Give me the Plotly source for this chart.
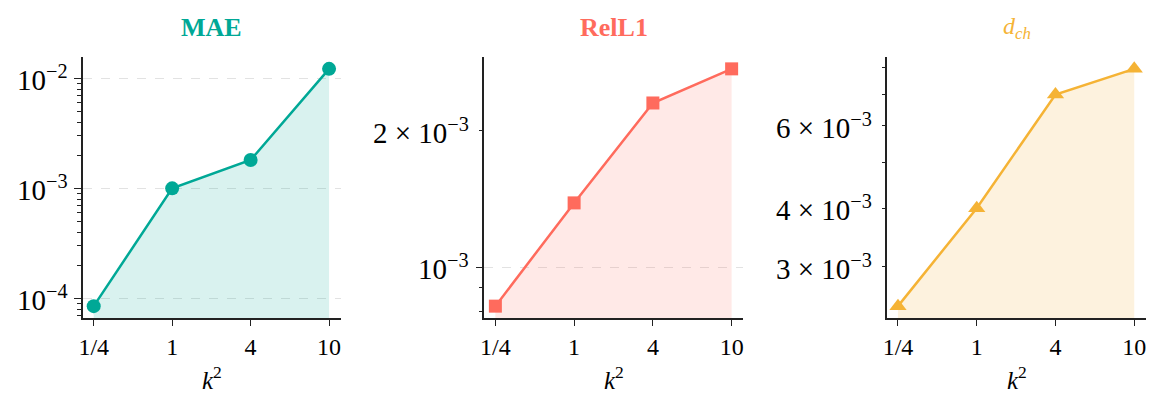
import numpy as np
import plotly.graph_objects as go

# ---- data ----
k2_labels = ["1/4", "1", "4", "10"]
mae = [8.5e-5, 1.0e-3, 1.81e-3, 1.22e-2]
rell1 = [8.2e-4, 1.385e-3, 2.30e-3, 2.735e-3]
dch = [2.47e-3, 4.0e-3, 7.0e-3, 7.94e-3]

# y tick labels (value, text) for each panel
ylabel_vals = [[1e-4, 1e-3, 1e-2], [1e-3, 2e-3], [3e-3, 4e-3, 6e-3]]
ylabel_text = [
    ["10<sup>−4</sup>", "10<sup>−3</sup>", "10<sup>−2</sup>"],
    ["10<sup>−3</sup>", "2 × 10<sup>−3</sup>"],
    ["3 × 10<sup>−3</sup>", "4 × 10<sup>−3</sup>", "6 × 10<sup>−3</sup>"],
]
# long (major, gridded) ticks per panel
major_ticks = [[1e-4, 1e-3, 1e-2], [1e-3], []]

series = [mae, rell1, dch]
titles = ["<b>MAE</b>", "<b>RelL1</b>", "<i>d</i><sub><i>ch</i></sub>"]
colors = ["#00A896", "#FF6B5D", "#F5B335"]
fills = ["rgba(0,168,150,0.15)", "rgba(255,107,93,0.15)", "rgba(240,172,48,0.16)"]
symbols = ["circle", "square", "triangle-up"]
marker_sizes = [14, 13, 15]

W, H = 1162, 410
x_dom_px = [(79, 338), (482, 742), (886, 1146)]
y_dom = [(410 - 318) / H, (410 - 57) / H]

FONT = "Liberation Serif, Times New Roman, serif"
AX = "#222222"
GRID = "#e2e2e2"
YFS = 29

fig = go.Figure()
annotations = []

for i, (vals, col) in enumerate(zip(series, colors)):
    n = "" if i == 0 else str(i + 1)
    xa, ya = "x" + n, "y" + n
    fig.add_trace(go.Scatter(
        x=k2_labels, y=vals, xaxis=xa, yaxis=ya, mode="lines+markers",
        line=dict(color=col, width=2.5),
        marker=dict(symbol=symbols[i], size=marker_sizes[i], color=col, line=dict(width=0)),
        fill="tozeroy", fillcolor=fills[i], showlegend=False, cliponaxis=False,
    ))
    lo, hi = np.log10(min(vals)), np.log10(max(vals))
    m = 0.05 * (hi - lo)
    yr = [lo - m, hi + m]
    minor_vals = [k * 10.0 ** e for e in range(-6, 0) for k in range(1, 10)
                  if not any(abs(k * 10.0 ** e - t) / t < 1e-6 for t in major_ticks[i])]
    d = x_dom_px[i]
    fig.update_layout(**{
        ("xaxis" + n): dict(
            domain=[d[0] / W, d[1] / W], anchor=ya, type="category",
            range=[-0.14, 3.15], showline=True, linecolor=AX, linewidth=1.5,
            ticks="outside", ticklen=6, tickwidth=1.3, tickcolor=AX,
            showgrid=False, zeroline=False,
            tickfont=dict(family=FONT, size=24, color="#000"),
        ),
        ("yaxis" + n): dict(
            domain=y_dom, anchor=xa, type="log", range=yr,
            showline=True, linecolor=AX, linewidth=1.5,
            ticks="outside", ticklen=7, tickwidth=1.3, tickcolor=AX,
            tickmode="array", tickvals=major_ticks[i], showticklabels=False,
            showgrid=True, gridcolor=GRID, griddash="dash", gridwidth=1,
            zeroline=False,
            minor=dict(tickmode="array", tickvals=minor_vals, ticks="outside",
                       ticklen=3.5, tickwidth=1.1, tickcolor=AX, showgrid=False),
        ),
    })
    # y tick labels placed next to their ticks
    for v, t in zip(ylabel_vals[i], ylabel_text[i]):
        annotations.append(dict(
            text=t, x=(d[0] - 14) / W, xref="paper", y=np.log10(v), yref=ya,
            xanchor="right", yanchor="middle", showarrow=False, borderpad=0,
            font=dict(family=FONT, size=YFS, color="#000"),
        ))
    cx = (d[0] + d[1]) / 2 / W
    annotations.append(dict(
        text=titles[i], x=cx, y=(H - 28) / H, xref="paper", yref="paper",
        xanchor="center", yanchor="middle", showarrow=False,
        font=dict(family=FONT, size=26 if i < 2 else 24, color=col),
    ))
    annotations.append(dict(
        text="<i>k</i><sup>2</sup>", x=cx, y=(H - 378) / H, xref="paper", yref="paper",
        xanchor="center", yanchor="middle", showarrow=False,
        font=dict(family=FONT, size=25, color="#000"),
    ))

fig.update_layout(
    width=W, height=H, margin=dict(l=0, r=0, t=0, b=0),
    paper_bgcolor="white", plot_bgcolor="white",
    annotations=annotations,
    font=dict(family=FONT, color="#000"),
)

fig.write_html("out.html", config={"displayModeBar": False},
               post_script="document.body.style.margin='0';")
